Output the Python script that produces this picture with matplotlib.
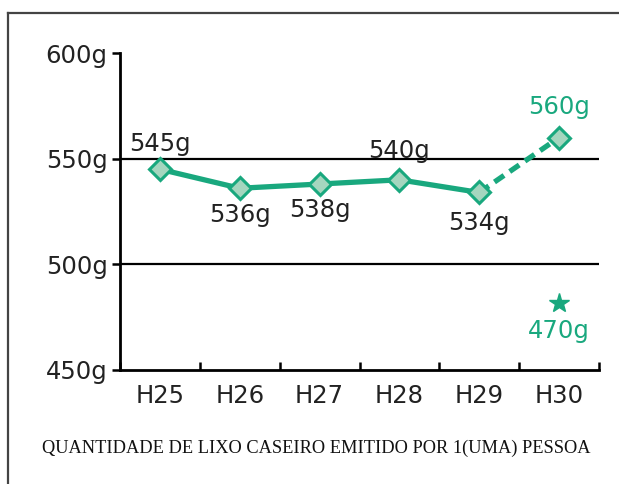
import matplotlib
matplotlib.use("Agg")
import matplotlib.pyplot as plt
from matplotlib.lines import Line2D
from matplotlib.transforms import ScaledTranslation

categories = ["H25", "H26", "H27", "H28", "H29", "H30"]
values = [545, 536, 538, 540, 534, 560]
value_labels = ["545g", "536g", "538g", "540g", "534g", "560g"]
label_side = [1, -1, -1, 1, -1, 1]
target_value = 470
target_label = "470g"
yticks = [450, 500, 550, 600]
ytick_labels = ["450g", "500g", "550g", "600g"]
title = "QUANTIDADE DE LIXO CASEIRO EMITIDO POR 1(UMA) PESSOA"

GREEN = "#19a87e"
FACE = "#a5d6bf"
FS = 17.5

fig = plt.figure(figsize=(6.19, 4.84), dpi=100)
ax = fig.add_axes([120/619, 1-370/484, 479/619, 317/484])

x = list(range(len(categories)))
ax.plot(x[:5], values[:5], color=GREEN, lw=3.8, zorder=3)
ax.plot(x[4:], values[4:], color=GREEN, lw=3.8, ls=(0, (2.2, 1.3)), zorder=3)
ax.plot(x, values, ls="none", marker="D", ms=11, mfc=FACE, mec=GREEN, mew=2.2, zorder=4)

offsets = [18, -19, -19, 21, -22, 22]
for xi, v, lab, off in zip(x, values, value_labels, offsets):
    col = GREEN if xi == len(x) - 1 else "#222222"
    ax.annotate(lab, (xi, v), xytext=(0, off), textcoords="offset points",
                ha="center", va="center", fontsize=FS, color=col, zorder=5)

star_tr = ax.transData + ScaledTranslation(0, 25/100, fig.dpi_scale_trans)
ax.plot([x[-1]], [target_value], marker="*", ms=15, color=GREEN, ls="none", transform=star_tr)
ax.text(x[-1], target_value, target_label, ha="center", va="center", fontsize=FS, color=GREEN,
        transform=ax.transData + ScaledTranslation(0, -3/100, fig.dpi_scale_trans))

ax.set_xlim(-0.5, 5.5)
ax.set_ylim(450, 600)
ax.set_yticks(yticks)
ax.set_yticklabels(ytick_labels)
ax.set_xticks([i - 0.5 for i in range(len(categories) + 1)], minor=False)
ax.set_xticklabels([""] * (len(categories) + 1))
ax.set_xticks(x, minor=True)
ax.set_xticklabels(categories, minor=True)
ax.tick_params(axis="x", which="major", direction="in", length=6, width=1.8, color="black")
ax.tick_params(axis="x", which="minor", length=0, pad=10, labelsize=FS)
ax.tick_params(axis="y", direction="out", length=6, width=1.8, labelsize=FS, pad=3)
for lab in ax.get_yticklabels() + ax.get_xticklabels(minor=True):
    lab.set_color("#222222")

for yv in yticks[1:3]:
    ax.axhline(yv, color="black", lw=1.6, zorder=1)
for sp in ["top", "right"]:
    ax.spines[sp].set_visible(False)
ax.spines["left"].set_linewidth(2)
ax.spines["bottom"].set_linewidth(2)

fig.text(316/619, 1-448/484, title, ha="center", va="center", fontsize=13.2,
         family="Liberation Serif", color="#111111")

fig.add_artist(Line2D([8/619, 8/619], [0, 1-13/484], color="#444444", lw=1.6, transform=fig.transFigure))
fig.add_artist(Line2D([8/619, 1], [1-13/484, 1-13/484], color="#444444", lw=1.6, transform=fig.transFigure))

fig.savefig("out.png", dpi=100)
